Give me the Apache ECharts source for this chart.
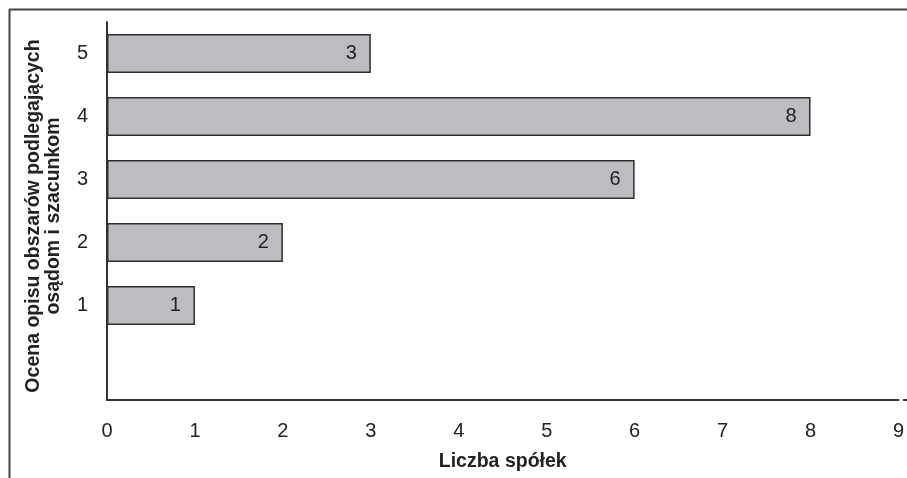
<!DOCTYPE html>
<html>
<head>
<meta charset="utf-8">
<script src="https://cdn.jsdelivr.net/npm/echarts@6/dist/echarts.min.js"></script>
<style>
  html, body { margin: 0; padding: 0; background: #fff; }
  #chart { width: 907px; height: 478px; }
</style>
</head>
<body>
<div id="chart"></div>
<script>
// Ratings (bottom slot left empty) and number of companies per rating
const ratings = ['', '1', '2', '3', '4', '5'];
const companyCounts = [null, 1, 2, 6, 8, 3];
const xTicks = [0, 1, 2, 3, 4, 5, 6, 7, 8, 9];

const FONT = '"Liberation Sans", Arial, Helvetica, sans-serif';
const INK = '#222';

const chart = echarts.init(document.getElementById('chart'), null, { renderer: 'canvas' });

chart.setOption({
  animation: false,
  backgroundColor: '#fff',
  grid: { left: 107, right: 4, top: 22, bottom: 78, containLabel: false },
  xAxis: {
    type: 'value',
    min: xTicks[0],
    max: xTicks[xTicks.length - 1],
    interval: 1,
    name: 'Liczba spółek',
    nameLocation: 'middle',
    nameGap: 52,
    nameTextStyle: { fontFamily: FONT, fontSize: 19.5, fontWeight: 'bold', color: INK },
    axisLine: { show: true, lineStyle: { color: '#333', width: 2 } },
    axisTick: { show: false },
    splitLine: { show: false },
    axisLabel: { fontFamily: FONT, fontSize: 20, color: INK, margin: 21 }
  },
  yAxis: {
    type: 'category',
    data: ratings,
    name: 'Ocena opisu obszarów podlegających\nosądom i szacunkom',
    nameLocation: 'middle',
    nameGap: 43,
    nameTextStyle: {
      fontFamily: FONT, fontSize: 19.5, fontWeight: 'bold', color: INK,
      lineHeight: 20, padding: [0, 10, 0, 0]
    },
    axisLine: { show: true, lineStyle: { color: '#333', width: 2 } },
    axisTick: { show: false },
    splitLine: { show: false },
    axisLabel: { fontFamily: FONT, fontSize: 20, color: INK, margin: 19 }
  },
  series: [{
    type: 'bar',
    data: companyCounts,
    barWidth: '62%',
    itemStyle: { color: '#bcbdc0', borderColor: '#2e2e2e', borderWidth: 1.5 },
    label: {
      show: true,
      position: 'insideRight',
      distance: 14,
      fontFamily: FONT,
      fontSize: 20,
      color: INK
    }
  }],
  graphic: [
    { type: 'line', silent: true, shape: { x1: 9, y1: 9.5, x2: 907, y2: 9.5 }, style: { stroke: '#444', lineWidth: 2 } },
    { type: 'line', silent: true, shape: { x1: 9.5, y1: 9, x2: 9.5, y2: 478 }, style: { stroke: '#444', lineWidth: 2 } },
    { type: 'line', silent: true, shape: { x1: 903, y1: 400, x2: 907, y2: 400 }, style: { stroke: '#333', lineWidth: 2 } }
  ]
});
</script>
</body>
</html>
